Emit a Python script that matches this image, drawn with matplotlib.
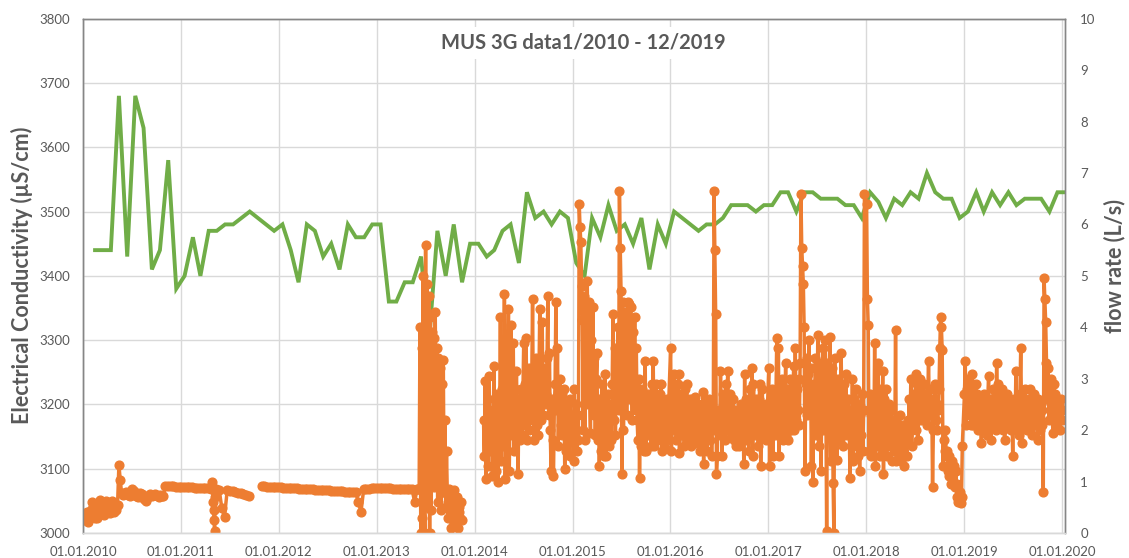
import numpy as np
import pandas as pd
import matplotlib
matplotlib.use("Agg")
import matplotlib.pyplot as plt
import matplotlib.dates as mdates

# monthly lab samples of electrical conductivity (uS/cm), mid-month, None = no sample
ec_start = "2010-01-15"
ec = [3440, 3440, 3440, 3680, 3430, 3680, 3630, 3410, 3440, 3580, 3380, 3400,
      3460, 3400, 3470, 3470, 3480, 3480, None, 3500, None, None, 3470, 3480,
      3440, 3390, 3480, 3470, 3430, 3450, 3410, 3480, 3460, 3460, 3480, 3480,
      3360, 3360, 3390, 3390, 3430, 3300, 3470, 3400, 3480, 3390, 3450, 3450,
      3430, 3440, 3470, 3480, 3420, 3530, 3490, 3500, 3480, 3500, 3490, 3420,
      3400, 3490, 3460, 3510, 3470, 3480, 3450, 3490, 3410, 3480, 3450, 3500,
      None, None, 3470, 3480, 3480, 3490, 3510, None, 3510, 3500, 3510, 3510,
      3530, 3530, 3500, 3530, 3530, 3520, None, 3520, 3510, 3510, 3490, 3530,
      3515, 3490, 3520, 3510, 3530, 3520, 3560, 3530, 3520, 3520, 3490, 3500,
      3530, 3500, 3530, 3510, 3530, 3510, 3520, None, 3520, 3500, 3530, 3530]

# logger flow rate (L/s): (start date, step in days, values)
flow_2010a = ("2010-01-05", 5, [
    0.35, 0.25, 0.4, 0.22, 0.3, 0.45,
    0.6, 0.5, 0.3, 0.55, 0.29, 0.45,
    0.64, 0.4, 0.55, 0.35, 0.62, 0.41,
    0.5, 0.38, 0.45, 0.63, 0.41, 0.5,
    0.45, 0.55, 1.32, 1.03,
    0.78, 0.74, 0.76, 0.8, 0.78, 0.74, 0.72, 0.76,
    0.85, 0.82, 0.76, 0.72, 0.7, 0.74, 0.78, 0.75, 0.7, 0.66, 0.62, 0.68,
    0.72, 0.75, 0.73, 0.71, 0.74, 0.76, 0.73, 0.72, 0.7, 0.74, 0.72, 0.71])
flow_2010b = ("2010-11-04", 10, [
    0.91, 0.92, 0.91, 0.91, 0.9, 0.9, 0.9, 0.89, 0.9, 0.89, 0.89, 0.88,
    0.88, 0.88, 0.87, 0.87, 0.87, 0.86])
flow_2011a = ("2011-04-27", 2, [0.87, 1.0, 0.61, 0.45, 0.25, 0.03, 0.7, 0.85])
flow_2011b = ("2011-05-14", 10, [
    0.84, 0.84, 0.48, 0.32, 0.83, 0.82, 0.81, 0.8, 0.78, 0.77, 0.76, 0.74, 0.72])
flow_2012 = ("2011-10-30", 10, [
    0.91, 0.91, 0.9, 0.9, 0.9, 0.89, 0.89, 0.89, 0.88, 0.88, 0.88, 0.87,
    0.87, 0.87, 0.86, 0.86, 0.86, 0.85, 0.85, 0.85, 0.84, 0.84, 0.84, 0.83,
    0.83, 0.83, 0.82, 0.82, 0.82, 0.81, 0.81, 0.8, 0.8, 0.8, 0.79, 0.79,
    0.61, 0.41, 0.85, 0.86, 0.86, 0.87, 0.87, 0.87, 0.87, 0.87, 0.87, 0.87,
    0.87, 0.86, 0.86, 0.86, 0.86, 0.86, 0.86, 0.86, 0.86, 0.61, 0.86])
flow_2013 = ("2013-06-05", 3, [
    0.86, 0.85,
    4.0, 0.0, 3.6, 0.3, 5.0, 1.4, 0.0, 5.6, 0.5, 4.85, 1.0, 4.6, 0.0, 4.2, 0.45, 3.9, 1.2,
    3.8, 0.9, 4.3, 1.5, 3.6, 0.6, 3.4, 1.8, 3.2, 0.45, 2.9, 1.3, 3.36, 0.8, 2.2, 0.5, 1.6,
    0.75, 0.3, 0.85, 0.45, 0.7, 0.1, 0.6, 0.4, 0.84, 0.2, 0.55, 0.35, 0.7, 0.09, 0.5,
    0.41, 0.3, 0.6, 0.25])
# from 2014 on: one row of ten 3-day readings per month
flow_2014 = ("2014-02-03", 3, [
    2.2, 1.5, 2.95, 1.05, 2.0, 2.6, 1.3, 3.05, 1.6, 2.3,
    2.4, 1.1, 1.9, 3.25, 1.8, 2.5, 1.2, 2.7, 1.0, 2.1,
    2.0, 4.2, 1.4, 2.8, 1.7, 2.5, 4.65, 1.05, 2.2, 3.0,
    2.6, 4.35, 1.2, 2.4, 4.05, 1.9, 2.2, 3.7, 1.6, 2.8,
    2.5, 3.15, 2.0, 1.15, 2.6, 1.8, 2.8, 2.3, 1.9, 2.7,
    3.7, 2.1, 2.9, 3.8, 1.8, 2.6, 3.2, 2.0, 2.4, 3.0,
    3.0, 4.55, 2.2, 1.8, 2.9, 3.4, 2.1, 2.6, 1.9, 3.2,
    4.35, 2.7, 2.2, 4.1, 2.3, 3.0, 3.2, 2.5, 2.7, 3.4,
    4.6, 2.3, 3.5, 2.0, 1.2, 2.6, 1.8, 1.1, 2.4, 2.9,
    4.5, 2.4, 3.6, 1.7, 2.5, 3.0, 2.1, 1.9, 2.7, 2.2,
    2.8, 1.25, 2.3, 1.6, 2.5, 1.9, 2.2, 1.5, 2.6, 2.0])
flow_2015 = ("2015-01-02", 3, [
    2.1, 1.4, 2.8, 1.9, 2.5, 1.6, 2.3, 1.8, 6.4, 5.95,
    5.65, 4.8, 4.15, 2.0, 4.6, 1.8, 3.9, 2.5, 4.9, 3.2,
    4.5, 2.6, 1.95, 3.75, 2.8, 4.4, 2.3, 3.4, 1.9, 3.0,
    3.5, 1.8, 2.6, 1.3, 2.2, 1.6, 2.9, 2.0, 2.4, 1.5,
    3.1, 1.5, 2.3, 1.9, 2.7, 1.7, 2.2, 2.5, 1.8, 2.9,
    4.25, 2.2, 3.6, 1.9, 3.0, 2.5, 4.0, 2.4, 6.65, 5.55,
    4.7, 1.15, 4.5, 2.0, 3.8, 2.6, 4.3, 2.3, 3.5, 4.5,
    4.45, 2.6, 4.4, 3.2, 2.2, 3.9, 2.8, 4.2, 2.4, 3.6,
    2.2, 1.8, 3.0, 1.06, 2.5, 1.7, 2.8, 2.0, 2.3, 1.6,
    3.35, 1.6, 2.3, 1.9, 2.7, 2.0, 2.5, 1.7, 2.9, 2.2,
    3.35, 1.7, 2.6, 2.0, 2.9, 1.8, 2.4, 2.2, 2.7, 1.9,
    2.9, 1.6, 2.3, 2.0, 2.5, 1.65, 2.2, 2.6, 1.8, 2.4])
flow_2016 = ("2016-01-02", 3, [
    3.6, 1.6, 2.6, 2.0, 3.1, 2.2, 2.7, 1.8, 2.4, 2.9,
    3.1, 1.55, 2.5, 1.9, 2.7, 2.1, 2.3, 1.7, 2.8, 2.0,
    2.9, 1.8, 2.4, 2.0, 2.6, 1.7, 2.2, 2.5, 1.9, 2.3,
    2.65, 1.75, 2.3, 2.1, 2.5, 1.9, 2.4, 1.6, 2.2, 2.0,
    2.75, 1.35, 2.2, 1.9, 2.5, 1.6, 2.3, 2.0, 2.6, 1.8,
    2.5, 1.5, 2.2, 2.0, 6.65, 5.5, 4.25, 1.15, 1.5, 2.3,
    2.4, 1.9, 3.15, 2.3, 1.5, 2.7, 2.0, 2.5, 1.8, 2.9,
    2.5, 3.15, 2.2, 2.0, 2.7, 1.9, 2.4, 2.1, 2.6, 1.8,
    2.4, 1.7, 2.1, 1.9, 2.3, 1.7, 2.0, 2.5, 1.8, 2.2,
    2.2, 1.35, 3.1, 1.8, 2.6, 2.0, 2.4, 1.6, 2.2, 2.8,
    2.2, 3.2, 1.5, 2.9, 2.3, 1.9, 2.6, 2.0, 2.4, 1.7,
    2.6, 2.9, 1.3, 2.2, 2.8, 1.9, 2.4, 2.0, 2.5, 1.8])
flow_2017 = ("2017-01-02", 3, [
    3.2, 1.3, 2.4, 2.0, 2.8, 1.5, 2.6, 2.2, 1.9, 2.7,
    3.8, 2.3, 3.6, 1.5, 2.7, 2.0, 3.0, 2.4, 1.8, 2.6,
    2.4, 3.3, 1.9, 2.8, 1.8, 2.5, 2.2, 3.0, 2.0, 2.6,
    2.6, 3.25, 2.0, 3.6, 2.2, 2.8, 2.4, 3.0, 2.1, 3.3,
    6.6, 5.55, 5.2, 4.85, 4.0, 1.2, 2.9, 3.4, 2.3, 3.1,
    3.75, 2.4, 3.2, 1.3, 2.6, 1.0, 2.9, 2.2, 3.4, 1.9,
    2.2, 3.85, 1.7, 3.3, 2.5, 1.2, 2.8, 3.6, 2.0, 3.0,
    3.75, 2.6, 0.03, 3.3, 2.0, 3.0, 3.82, 1.4, 2.5, 3.2,
    0.97, 0.0, 3.4, 1.9, 2.6, 1.42, 3.0, 2.2, 2.8, 1.8,
    3.5, 2.3, 1.7, 2.9, 2.0, 2.5, 3.1, 1.9, 2.6, 2.2,
    2.2, 1.06, 2.4, 1.9, 3.0, 1.4, 2.6, 2.0, 2.8, 1.7,
    2.1, 1.5, 2.5, 1.2, 2.3, 1.9, 2.7, 1.6, 2.4, 6.6])
flow_2018 = ("2018-01-02", 3, [
    6.4, 4.55, 4.05, 1.6, 2.7, 1.5, 2.3, 1.9, 2.6, 1.7,
    3.7, 1.3, 2.5, 1.7, 3.3, 2.1, 2.8, 1.5, 2.4, 2.0,
    3.15, 1.15, 2.6, 1.9, 2.8, 1.5, 2.3, 2.0, 2.5, 1.7,
    2.4, 1.4, 2.2, 1.9, 2.0, 1.6, 3.95, 1.4, 2.1, 1.7,
    1.5, 2.3, 1.7, 1.4, 2.1, 1.6, 1.9, 1.3, 2.0, 1.8,
    1.5, 2.2, 1.9, 2.6, 2.0, 3.0, 1.7, 2.4, 2.1, 2.7,
    2.5, 3.1, 2.0, 2.9, 1.8, 2.7, 2.3, 3.0, 2.2, 2.6,
    2.4, 2.9, 2.2, 2.5, 2.7, 2.1, 2.6, 3.35, 2.4, 2.8,
    2.3, 2.6, 0.9, 2.0, 2.6, 2.9, 2.2, 2.5, 2.0, 2.4,
    2.8, 3.6, 4.2, 4.0, 3.55, 1.3, 1.8, 1.6, 2.0, 1.5,
    1.6, 1.2, 1.5, 1.1, 1.35, 0.95, 1.4, 1.2, 1.0, 1.3,
    0.9, 1.2, 0.7, 0.95, 0.6, 0.65, 0.8, 0.58, 0.7, 1.7])
flow_2019 = ("2019-01-02", 3, [
    2.7, 3.35, 2.1, 2.8, 2.4, 3.0, 2.3, 2.6, 2.1, 2.9,
    3.1, 2.1, 2.6, 2.3, 2.9, 2.2, 2.7, 2.0, 2.5, 2.3,
    2.6, 1.75, 2.4, 2.2, 2.7, 2.0, 2.5, 2.3, 1.9, 2.6,
    3.05, 2.2, 2.5, 1.8, 2.6, 2.3, 2.8, 2.1, 2.4, 2.0,
    3.3, 2.4, 2.9, 2.1, 2.5, 2.6, 2.2, 2.8, 2.0, 2.4,
    1.8, 2.6, 2.3, 2.7, 2.1, 2.5, 2.2, 2.6, 2.0, 2.4,
    1.5, 2.4, 2.6, 2.2, 3.15, 2.0, 2.5, 2.3, 1.9, 2.7,
    3.6, 2.3, 1.75, 2.5, 2.2, 2.8, 2.1, 2.6, 2.0, 2.4,
    2.6, 2.0, 2.8, 2.3, 1.9, 2.5, 2.2, 2.7, 2.1, 2.4,
    2.2, 2.6, 1.8, 2.3, 2.0, 2.5, 2.1, 2.4, 0.8, 4.95,
    4.55, 4.1, 3.3, 2.6, 3.2, 2.2, 2.8, 2.4, 3.0, 2.3,
    1.95, 2.9, 2.4, 2.7, 2.1, 2.4, 2.6, 2.2, 2.5, 2.0, 2.6, 2.2, 2.4])

pieces = [flow_2010a, flow_2010b, flow_2011a, flow_2011b, flow_2012, flow_2013,
          flow_2014, flow_2015, flow_2016, flow_2017, flow_2018, flow_2019]

ec_s = pd.Series(ec, index=pd.date_range(ec_start, periods=len(ec), freq="MS")
                 + pd.Timedelta(days=14), dtype=float).dropna()

flow = pd.concat([pd.Series(v, index=pd.date_range(s, periods=len(v), freq=f"{d}D"))
                  for s, d, v in pieces]).sort_index()
# no line across the logger outages
breaks = flow.index[1:][np.diff(flow.index.values) > np.timedelta64(20, "D")]
flow = pd.concat([flow, pd.Series(np.nan, index=breaks - pd.Timedelta(days=1))]).sort_index()

grey = "#595959"
plt.rcParams["font.family"] = ["Lato", "DejaVu Sans"]

fig = plt.figure(figsize=(11.29, 5.58), dpi=100)
ax = fig.add_axes([0.0735, 0.0448, 0.8698, 0.9217])
ax2 = ax.twinx()

ax.plot(ec_s.index, ec_s.values, color="#70AD47", lw=2.8, solid_joinstyle="miter")
ax2.plot(flow.index, flow.values, color="#ED7D31", lw=2.5, marker="o", ms=6.3)

ax.set_xlim(pd.Timestamp("2010-01-01"), pd.Timestamp("2020-01-12"))
ax.set_ylim(3000, 3800)
ax2.set_ylim(0, 10)
ax.set_yticks(np.arange(3000, 3801, 100))
ax2.set_yticks(np.arange(0, 11, 1))
ax.xaxis.set_major_locator(mdates.YearLocator())
ax.xaxis.set_major_formatter(mdates.DateFormatter("%d.%m.%Y"))

ax.grid(True, color="#d9d9d9", lw=1)
ax.set_axisbelow(True)
for a in (ax, ax2):
    a.tick_params(length=0, labelsize=9.5, colors=grey)
    for sp in a.spines.values():
        sp.set_color("#868686")
        sp.set_linewidth(1)
    a.spines["bottom"].set_color("#d9d9d9")
ax.tick_params(axis="y", pad=9)
ax.tick_params(axis="x", pad=9)
ax2.tick_params(axis="y", pad=11)

fig.text(0.0192, 0.507, "Electrical Conductivity (\u00b5S/cm)", rotation=90,
         ha="center", va="center", fontsize=15.5, fontweight="bold", color=grey)
fig.text(0.9876, 0.523, "flow rate (L/s)", rotation=90,
         ha="center", va="center", fontsize=15.5, fontweight="bold", color=grey)

ax.text(0.509, 0.953, "MUS 3G data1/2010 - 12/2019", transform=ax.transAxes,
        ha="center", va="center", fontsize=14.5, fontweight="bold", color=grey,
        bbox=dict(facecolor="white", edgecolor="none", pad=4), zorder=5)

fig.savefig("out.png", dpi=100)
